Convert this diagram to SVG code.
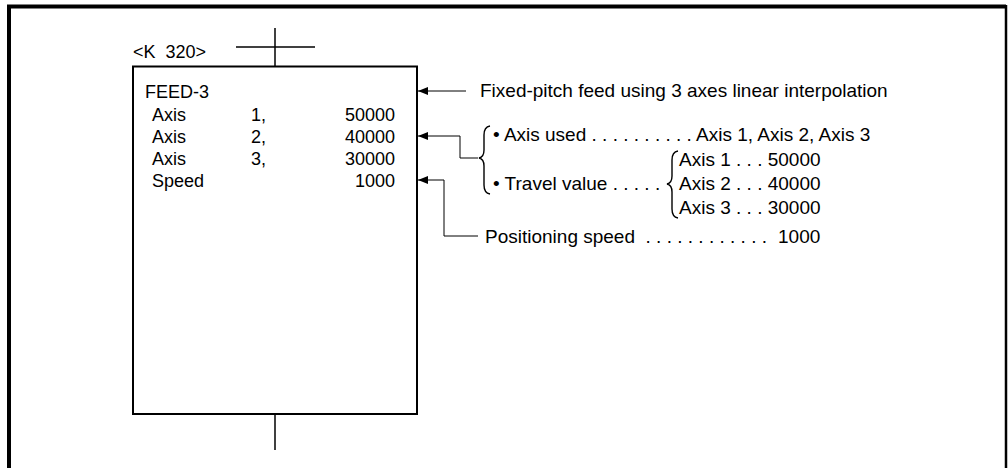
<svg xmlns="http://www.w3.org/2000/svg" width="1008" height="468" viewBox="0 0 1008 468">
<defs>
<style>
text{font-family:"Liberation Sans",Arial,sans-serif;font-size:18px;fill:#000}
.note text{font-size:19px}
.ln{stroke:#000;fill:none;stroke-width:1.5}
.cn{stroke:#000;fill:none;stroke-width:1}
.br{stroke:#000;fill:none;stroke-width:1.4}
.end{text-anchor:end}
</style>
<marker id="ah" viewBox="0 0 10 8" refX="10" refY="4" markerWidth="11" markerHeight="8" markerUnits="userSpaceOnUse" orient="auto">
<path d="M0,0 L10,4 L0,8 Z" fill="#000"/>
</marker>
</defs>
<rect width="1008" height="468" fill="#fff"/>
<path id="frame" d="M9,470 V6.5 H1006" fill="none" stroke="#000" stroke-width="4"/>
<line x1="1006" y1="5" x2="1006" y2="470" stroke="#000" stroke-width="2.5"/>
<g id="step">
<text x="133" y="58" xml:space="preserve">&lt;K  320&gt;</text>
<line class="ln" x1="236" y1="47" x2="315" y2="47"/>
<line class="ln" x1="275" y1="28" x2="275" y2="66"/>
<rect x="133" y="66.5" width="284" height="347.5" fill="none" stroke="#000" stroke-width="2"/>
<line class="ln" x1="275" y1="414" x2="275" y2="450"/>
<text x="145" y="98">FEED-3</text>
<text x="152" y="121">Axis</text><text x="251" y="121">1,</text><text class="end" x="395" y="121">50000</text>
<text x="152" y="143">Axis</text><text x="251" y="143">2,</text><text class="end" x="395" y="143">40000</text>
<text x="152" y="165">Axis</text><text x="251" y="165">3,</text><text class="end" x="395" y="165">30000</text>
<text x="152" y="187">Speed</text><text class="end" x="395" y="187">1000</text>
</g>
<g id="connectors">
<path class="cn" d="M466,91 H418" marker-end="url(#ah)"/>
<path class="cn" d="M478,158 H460 V136 H418" marker-end="url(#ah)"/>
<path class="cn" d="M478,236 H444 V180 H418" marker-end="url(#ah)"/>
</g>
<g id="note-title" class="note">
<text x="480" y="97">Fixed-pitch feed using 3 axes linear interpolation</text>
</g>
<g id="note-axes" class="note">
<path class="br" d="M490,126 Q484,127 484,135 V150 Q484,157 479,158 Q484,159 484,166 V185 Q484,193 490,194"/>
<text x="493" y="141" xml:space="preserve">• Axis used . . . . . . . . . . Axis 1, Axis 2, Axis 3</text>
<text x="493" y="190" xml:space="preserve">• Travel value . . . . .</text>
<path class="br" d="M678,151 Q672,152 672,160 V176 Q672,183 667,184 Q672,185 672,192 V209 Q672,217 678,218"/>
<text x="679" y="166">Axis 1 . . . 50000</text>
<text x="679" y="190">Axis 2 . . . 40000</text>
<text x="679" y="214">Axis 3 . . . 30000</text>
</g>
<g id="note-speed" class="note">
<text x="485" y="243" xml:space="preserve">Positioning speed  . . . . . . . . . . . . <tspan x="778">1000</tspan></text>
</g>
</svg>
